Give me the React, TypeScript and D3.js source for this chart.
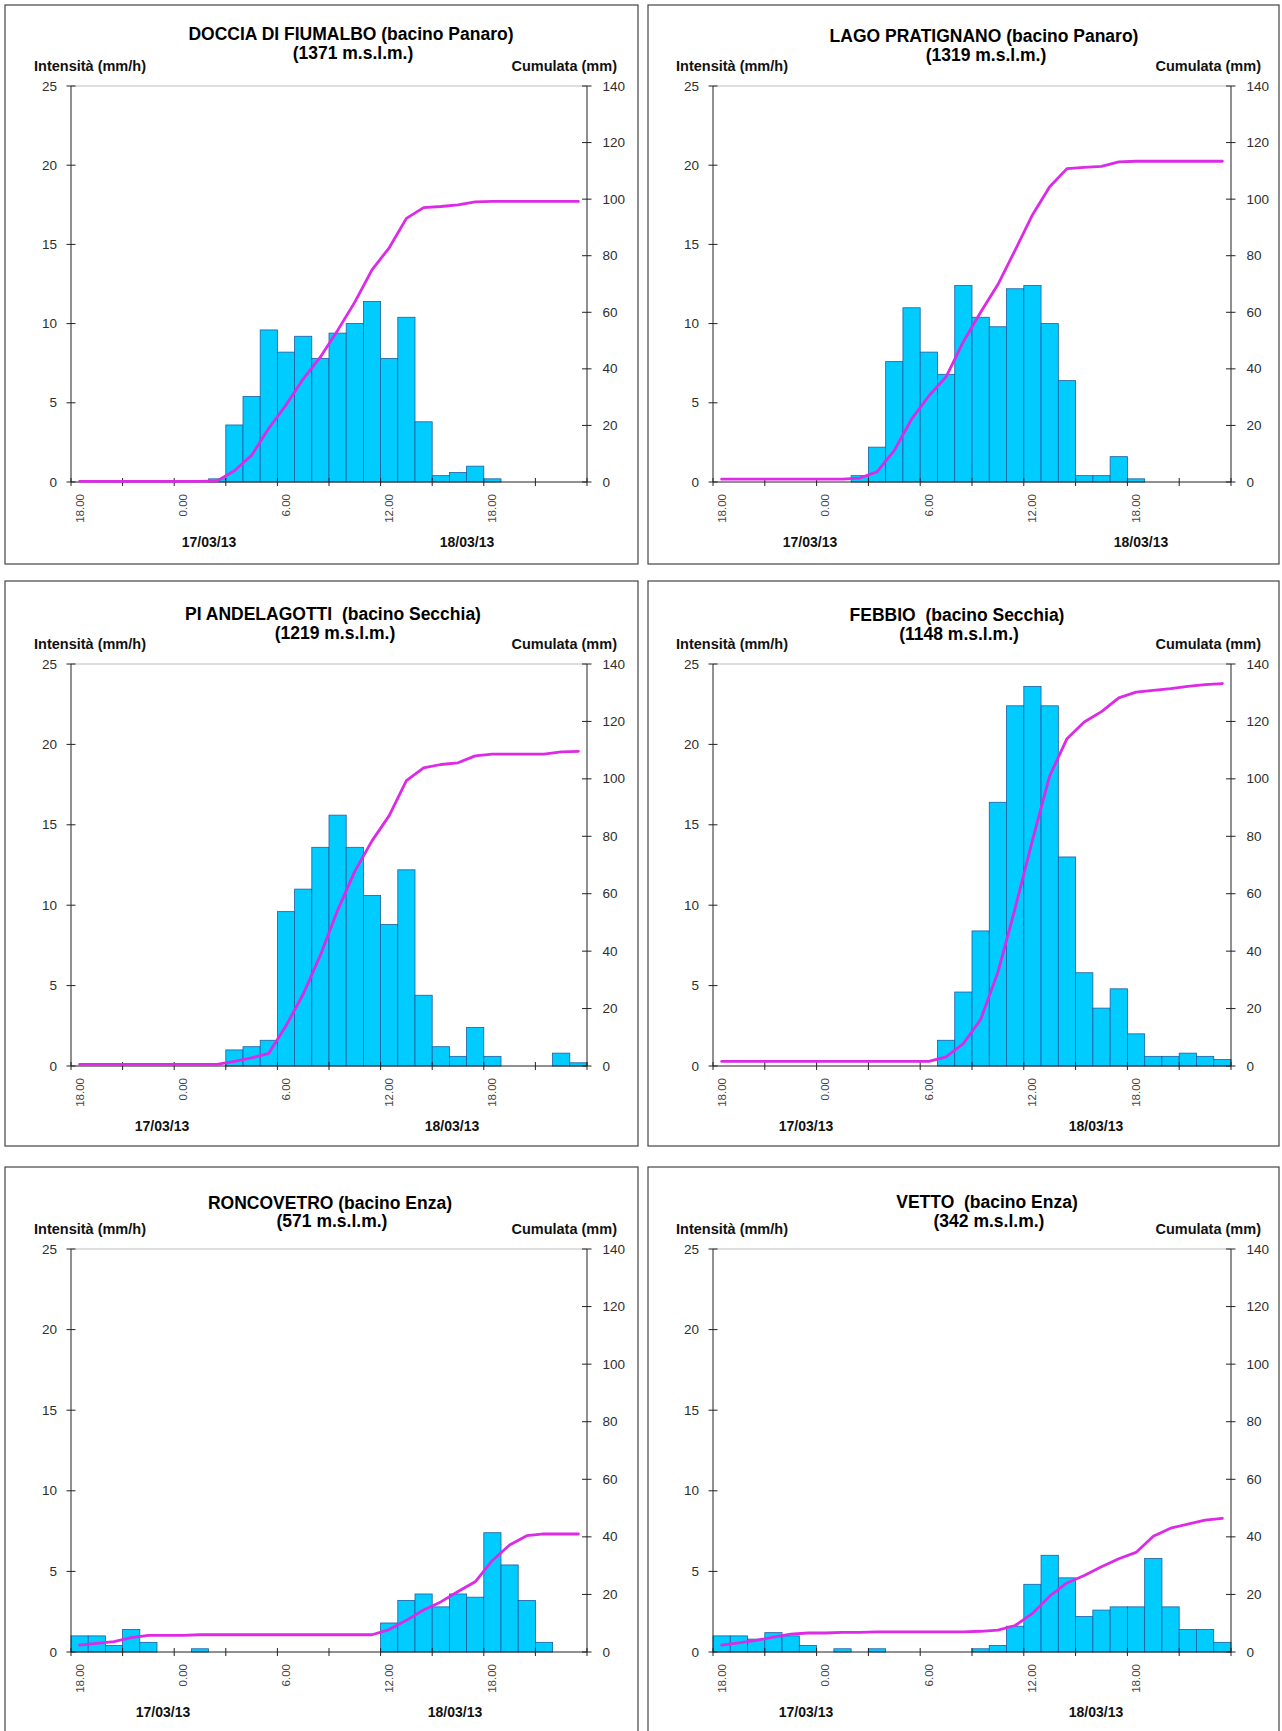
import React from 'react';
import * as d3 from 'd3';

// ---------- data ----------
const HOURS = [18, 19, 20, 21, 22, 23, 0, 1, 2, 3, 4, 5, 6, 7, 8, 9, 10, 11, 12, 13, 14, 15, 16, 17, 18, 19, 20, 21, 22, 23];
const HOUR_LABEL_INDEX = [0, 6, 12, 18, 24];
const DATE_LABELS = ['17/03/13', '18/03/13'];
const Y_LEFT_TICKS = [0, 5, 10, 15, 20, 25];
const Y_RIGHT_TICKS = [0, 20, 40, 60, 80, 100, 120, 140];
const LEFT_TITLE = 'Intensità (mm/h)';
const RIGHT_TITLE = 'Cumulata (mm)';

const STATIONS = [
  'DOCCIA DI FIUMALBO (bacino Panaro)',
  'LAGO PRATIGNANO (bacino Panaro)',
  'PI ANDELAGOTTI  (bacino Secchia)',
  'FEBBIO  (bacino Secchia)',
  'RONCOVETRO (bacino Enza)',
  'VETTO  (bacino Enza)',
];
const ELEVATIONS = ['(1371 m.s.l.m.)', '(1319 m.s.l.m.)', '(1219 m.s.l.m.)', '(1148 m.s.l.m.)', '(571 m.s.l.m.)', '(342 m.s.l.m.)'];

const INT_DOCCIA = [0, 0, 0, 0, 0, 0, 0, 0, 0.2, 3.6, 5.4, 9.6, 8.2, 9.2, 7.8, 9.4, 10.0, 11.4, 7.8, 10.4, 3.8, 0.4, 0.6, 1.0, 0.2, 0, 0, 0, 0, 0];
const CUM_DOCCIA = [0.2, 0.2, 0.2, 0.2, 0.2, 0.2, 0.2, 0.2, 0.4, 4.0, 9.4, 19.0, 27.2, 36.4, 44.2, 53.6, 63.6, 75.0, 82.8, 93.2, 97.0, 97.4, 98.0, 99.0, 99.2, 99.2, 99.2, 99.2, 99.2, 99.2];

const INT_PRATIGNANO = [0, 0, 0, 0, 0, 0, 0, 0, 0.4, 2.2, 7.6, 11.0, 8.2, 6.8, 12.4, 10.4, 9.8, 12.2, 12.4, 10.0, 6.4, 0.4, 0.4, 1.6, 0.2, 0, 0, 0, 0, 0];
const CUM_PRATIGNANO = [1.0, 1.0, 1.0, 1.0, 1.0, 1.0, 1.0, 1.0, 1.4, 3.6, 11.2, 22.2, 30.4, 37.2, 49.6, 60.0, 69.8, 82.0, 94.4, 104.4, 110.8, 111.2, 111.6, 113.2, 113.4, 113.4, 113.4, 113.4, 113.4, 113.4];

const INT_PIANDELAGOTTI = [0, 0, 0, 0, 0, 0, 0, 0, 0, 1.0, 1.2, 1.6, 9.6, 11.0, 13.6, 15.6, 13.6, 10.6, 8.8, 12.2, 4.4, 1.2, 0.6, 2.4, 0.6, 0, 0, 0, 0.8, 0.2];
const CUM_PIANDELAGOTTI = [0.6, 0.6, 0.6, 0.6, 0.6, 0.6, 0.6, 0.6, 0.6, 1.6, 2.8, 4.4, 14.0, 25.0, 38.6, 54.2, 67.8, 78.4, 87.2, 99.4, 103.8, 105.0, 105.6, 108.0, 108.6, 108.6, 108.6, 108.6, 109.4, 109.6];

const INT_FEBBIO = [0, 0, 0, 0, 0, 0, 0, 0, 0, 0, 0, 0, 0, 1.6, 4.6, 8.4, 16.4, 22.4, 23.6, 22.4, 13.0, 5.8, 3.6, 4.8, 2.0, 0.6, 0.6, 0.8, 0.6, 0.4];
const CUM_FEBBIO = [1.6, 1.6, 1.6, 1.6, 1.6, 1.6, 1.6, 1.6, 1.6, 1.6, 1.6, 1.6, 1.6, 3.2, 7.8, 16.2, 32.6, 55.0, 78.6, 101.0, 114.0, 119.8, 123.4, 128.2, 130.2, 130.8, 131.4, 132.2, 132.8, 133.2];

const INT_RONCOVETRO = [1.0, 1.0, 0.4, 1.4, 0.6, 0, 0, 0.2, 0, 0, 0, 0, 0, 0, 0, 0, 0, 0, 1.8, 3.2, 3.6, 2.8, 3.6, 3.4, 7.4, 5.4, 3.2, 0.6, 0, 0];
const CUM_RONCOVETRO = [2.4, 3.0, 3.6, 5.0, 5.8, 5.8, 5.8, 6.0, 6.0, 6.0, 6.0, 6.0, 6.0, 6.0, 6.0, 6.0, 6.0, 6.0, 7.8, 11.0, 14.6, 17.4, 21.0, 24.4, 31.8, 37.2, 40.4, 41.0, 41.0, 41.0];

const INT_VETTO = [1.0, 1.0, 0.8, 1.2, 1.0, 0.4, 0, 0.2, 0, 0.2, 0, 0, 0, 0, 0, 0.2, 0.4, 1.6, 4.2, 6.0, 4.6, 2.2, 2.6, 2.8, 2.8, 5.8, 2.8, 1.4, 1.4, 0.6];
const CUM_VETTO = [2.4, 3.2, 4.0, 5.2, 6.2, 6.6, 6.6, 6.8, 6.8, 7.0, 7.0, 7.0, 7.0, 7.0, 7.0, 7.2, 7.6, 9.2, 13.4, 19.4, 24.0, 26.6, 29.6, 32.4, 34.6, 40.2, 43.0, 44.4, 45.8, 46.4];

const INTENSITY = [INT_DOCCIA, INT_PRATIGNANO, INT_PIANDELAGOTTI, INT_FEBBIO, INT_RONCOVETRO, INT_VETTO];
const CUMULATIVE = [CUM_DOCCIA, CUM_PRATIGNANO, CUM_PIANDELAGOTTI, CUM_FEBBIO, CUM_RONCOVETRO, CUM_VETTO];

// ---------- layout ----------
const W = 1282;
const H = 1731;
const COLS = [
  { panelL: 5, panelR: 638, plotL: 71, plotR: 587 },
  { panelL: 648, panelR: 1279, plotL: 713, plotR: 1231 },
];
const ROWS = [
  { panelT: 5, panelB: 564, plotT: 86, plotB: 482 },
  { panelT: 581, panelB: 1146, plotT: 664, plotB: 1066 },
  { panelT: 1167, panelB: 1745, plotT: 1249, plotB: 1652 },
];
// title centre (x rel. panel left) and line centres (rel. plot top)
const TITLE_CX = [346, 336, 328, 309, 325, 339];
const TITLE_L1 = [-52, -50, -50, -49, -46, -47];
const TITLE_L2 = [-33, -31, -31, -30, -28, -28];
// date label centres, px from plot left
const DATE_X = [
  [138, 396],
  [97, 428],
  [91, 381],
  [93, 383],
  [92, 384],
  [93, 383],
];

const FONT = 'Arial, "Liberation Sans", Helvetica, sans-serif';
const BAR_FILL = '#00ccff';
const BAR_STROKE = '#1f5e9e';
const LINE_COLOR = '#dc2ae6';
const AXIS_COLOR = '#222';
const TICK_COLOR = '#2e2e2e';

function Panel({ idx }: { idx: number }) {
  const col = COLS[idx % 2];
  const row = ROWS[Math.floor(idx / 2)];
  const n = HOURS.length;
  const xb = d3.scaleLinear().domain([0, n]).range([col.plotL, col.plotR]);
  const yL = d3.scaleLinear().domain([0, 25]).range([row.plotB, row.plotT]);
  const yR = d3.scaleLinear().domain([0, 140]).range([row.plotB, row.plotT]);
  const inten = INTENSITY[idx];
  const cum = CUMULATIVE[idx];
  const line = d3
    .line<number>()
    .x((_, i) => xb(i + 0.5))
    .y((v) => yR(v));
  const boundaryTicks = d3.range(0, n + 1, 3);
  const titleX = col.panelL + TITLE_CX[idx];

  return (
    <g>
      <rect
        x={col.panelL}
        y={row.panelT}
        width={col.panelR - col.panelL}
        height={row.panelB - row.panelT}
        fill="#fff"
        stroke="#444"
        strokeWidth={1.2}
      />
      {/* titles */}
      <text
        x={titleX}
        y={row.plotT + TITLE_L1[idx]}
        textAnchor="middle"
        dominantBaseline="central"
        fontFamily={FONT}
        fontWeight="bold"
        fontSize={17.5}
        fill="#000"
        style={{ whiteSpace: 'pre' }}
      >
        {STATIONS[idx]}
      </text>
      <text
        x={titleX + 2}
        y={row.plotT + TITLE_L2[idx]}
        textAnchor="middle"
        dominantBaseline="central"
        fontFamily={FONT}
        fontWeight="bold"
        fontSize={17.5}
        fill="#000"
      >
        {ELEVATIONS[idx]}
      </text>
      <text x={col.plotL - 37} y={row.plotT - 15} fontFamily={FONT} fontWeight="bold" fontSize={14.5} fill="#111">
        {LEFT_TITLE}
      </text>
      <text
        x={col.plotR + 30}
        y={row.plotT - 15}
        textAnchor="end"
        fontFamily={FONT}
        fontWeight="bold"
        fontSize={14.5}
        fill="#111"
      >
        {RIGHT_TITLE}
      </text>

      {/* plot top border */}
      <line x1={col.plotL} x2={col.plotR} y1={row.plotT} y2={row.plotT} stroke="#bdbdbd" strokeWidth={1} />

      {/* bars */}
      {inten.map((v, i) =>
        v > 0 ? (
          <rect
            key={i}
            x={xb(i)}
            y={yL(v)}
            width={xb(i + 1) - xb(i)}
            height={yL(0) - yL(v)}
            fill={BAR_FILL}
            stroke={BAR_STROKE}
            strokeWidth={0.8}
          />
        ) : null
      )}

      {/* left axis */}
      <line x1={col.plotL} x2={col.plotL} y1={row.plotT} y2={row.plotB} stroke={AXIS_COLOR} strokeWidth={1} />
      {Y_LEFT_TICKS.map((t) => (
        <g key={'l' + t}>
          <line x1={col.plotL - 4.5} x2={col.plotL + 4.5} y1={yL(t)} y2={yL(t)} stroke={AXIS_COLOR} strokeWidth={1} />
          <text
            x={col.plotL - 14}
            y={yL(t)}
            textAnchor="end"
            dominantBaseline="central"
            fontFamily={FONT}
            fontSize={13.5}
            fill={TICK_COLOR}
          >
            {t}
          </text>
        </g>
      ))}
      {/* right axis */}
      <line x1={col.plotR} x2={col.plotR} y1={row.plotT} y2={row.plotB} stroke={AXIS_COLOR} strokeWidth={1} />
      {Y_RIGHT_TICKS.map((t) => (
        <g key={'r' + t}>
          <line x1={col.plotR - 5} x2={col.plotR + 4.5} y1={yR(t)} y2={yR(t)} stroke={AXIS_COLOR} strokeWidth={1} />
          <text
            x={col.plotR + 15.5}
            y={yR(t)}
            dominantBaseline="central"
            fontFamily={FONT}
            fontSize={13.5}
            fill={TICK_COLOR}
          >
            {t}
          </text>
        </g>
      ))}
      {/* x axis */}
      <line x1={col.plotL} x2={col.plotR} y1={row.plotB} y2={row.plotB} stroke={AXIS_COLOR} strokeWidth={1} />
      {boundaryTicks.map((b) => (
        <line key={'x' + b} x1={xb(b)} x2={xb(b)} y1={row.plotB - 4} y2={row.plotB + 4} stroke={AXIS_COLOR} strokeWidth={1} />
      ))}
      {HOUR_LABEL_INDEX.map((i) => (
        <text
          key={'h' + i}
          transform={`translate(${xb(i + 0.5)},${row.plotB + 12}) rotate(-90)`}
          textAnchor="end"
          dominantBaseline="central"
          fontFamily={FONT}
          fontSize={11.5}
          fill="#444"
        >
          {`${HOURS[i]}.00`}
        </text>
      ))}
      {DATE_LABELS.map((d, k) => (
        <text
          key={d}
          x={col.plotL + DATE_X[idx][k]}
          y={row.plotB + 60}
          textAnchor="middle"
          dominantBaseline="central"
          fontFamily={FONT}
          fontWeight="bold"
          fontSize={14}
          fill="#111"
        >
          {d}
        </text>
      ))}

      {/* cumulative line */}
      <path d={line(cum) || ''} fill="none" stroke={LINE_COLOR} strokeWidth={2.8} strokeLinejoin="round" strokeLinecap="round" />
    </g>
  );
}

export default function App() {
  return (
    <svg
      width={W}
      height={H}
      viewBox={`0 0 ${W} ${H}`}
      style={{ position: 'absolute', left: 0, top: 0, background: '#fff' }}
    >
      <rect x={0} y={0} width={W} height={H} fill="#fff" />
      {STATIONS.map((_, i) => (
        <Panel key={i} idx={i} />
      ))}
    </svg>
  );
}
